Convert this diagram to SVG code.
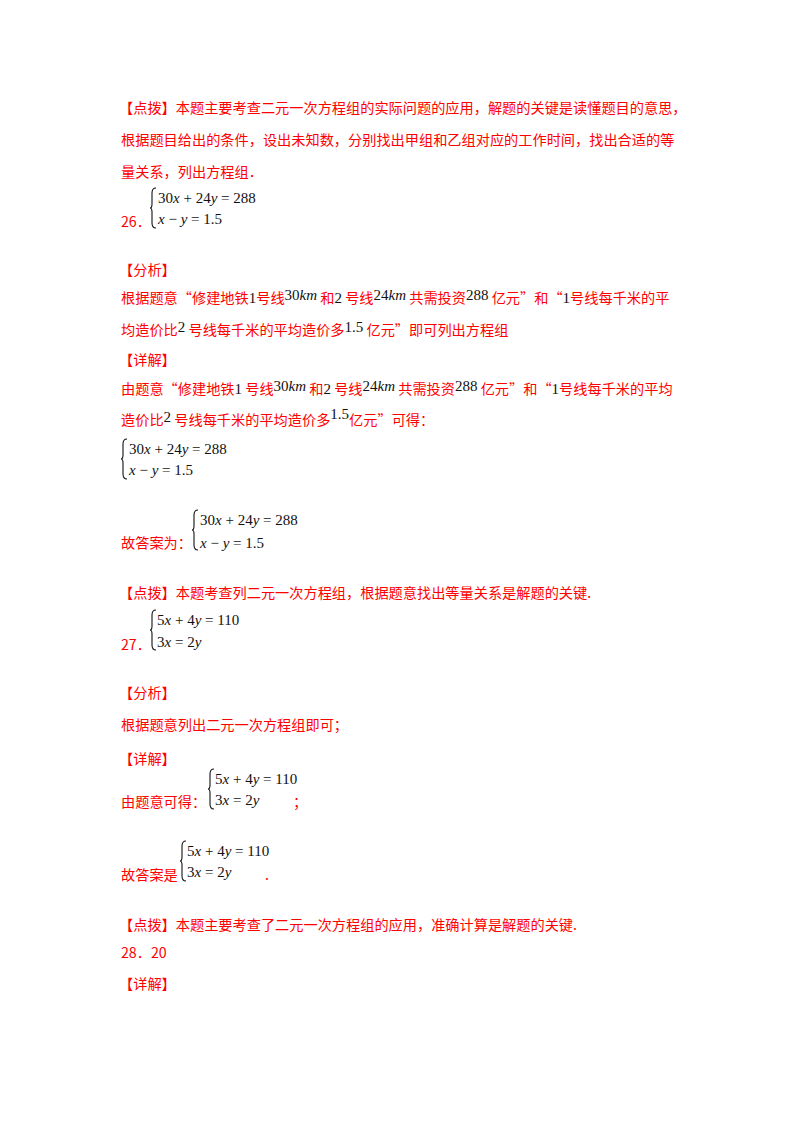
<svg xmlns="http://www.w3.org/2000/svg" width="800" height="1132" viewBox="0 0 800 1132">
<style>
.r{fill:#ff0000;font-family:"Noto Sans CJK SC","Liberation Sans",sans-serif;font-size:14.2px}
.m{fill:#111;font-family:"Liberation Serif",serif;font-size:15px}
.i{font-style:italic}
.b{fill:none;stroke:#111;stroke-width:1.1}
</style>
<defs>
<path id="br" class="b" d="M6,0 Q2,0 2,5 L2,16 Q2,20 0,20 Q2,20 2,24 L2,35 Q2,40 6,40"/>
</defs>
<rect width="800" height="1132" fill="#fff"/>
<text class="r" x="119" y="113">【点拨】本题主要考查二元一次方程组的实际问题的应用，解题的关键是读懂题目的意思，</text>
<text class="r" x="121" y="145">根据题目给出的条件，设出未知数，分别找出甲组和乙组对应的工作时间，找出合适的等</text>
<text class="r" x="121" y="177">量关系，列出方程组．</text>
<text class="r" x="121" y="227">26．</text>
<use href="#br" x="150" y="188"/>
<text class="m" x="158" y="203">30<tspan class="i">x</tspan> + 24<tspan class="i">y</tspan> = 288</text>
<text class="m" x="158" y="224"><tspan class="i">x</tspan> − <tspan class="i">y</tspan> = 1.5</text>

<text class="r" x="119" y="275">【分析】</text>
<text class="r" x="121" y="303">根据题意“修建地铁<tspan class="m">1</tspan>号线<tspan class="m" dy="-3">30<tspan class="i">km</tspan></tspan><tspan dy="3"> 和</tspan><tspan class="m">2</tspan> 号线<tspan class="m" dy="-3">24<tspan class="i">km</tspan></tspan><tspan dy="3"> 共需投资</tspan><tspan class="m" dy="-3">288</tspan><tspan dy="3"> 亿元”和“</tspan><tspan class="m">1</tspan>号线每千米的平</text>
<text class="r" x="121" y="335">均造价比<tspan class="m" dy="-3">2</tspan><tspan dy="3"> 号线每千米的平均造价多</tspan><tspan class="m" dy="-3">1.5</tspan><tspan dy="3"> 亿元”即可列出方程组</tspan></text>
<text class="r" x="119" y="365">【详解】</text>
<text class="r" x="121" y="394">由题意“修建地铁<tspan class="m">1</tspan> 号线<tspan class="m" dy="-3">30<tspan class="i">km</tspan></tspan><tspan dy="3"> 和</tspan><tspan class="m">2</tspan> 号线<tspan class="m" dy="-3">24<tspan class="i">km</tspan></tspan><tspan dy="3"> 共需投资</tspan><tspan class="m" dy="-3">288</tspan><tspan dy="3"> 亿元”和“</tspan><tspan class="m">1</tspan>号线每千米的平均</text>
<text class="r" x="121" y="425">造价比<tspan class="m" dy="-3">2</tspan><tspan dy="3"> 号线每千米的平均造价多</tspan><tspan class="m" dy="-6">1.5</tspan><tspan dy="6">亿元”可得：</tspan></text>
<use href="#br" x="121" y="439"/>
<text class="m" x="129" y="454">30<tspan class="i">x</tspan> + 24<tspan class="i">y</tspan> = 288</text>
<text class="m" x="129" y="475"><tspan class="i">x</tspan> − <tspan class="i">y</tspan> = 1.5</text>

<text class="r" x="121" y="548">故答案为：</text>
<use href="#br" x="192" y="510"/>
<text class="m" x="200" y="525">30<tspan class="i">x</tspan> + 24<tspan class="i">y</tspan> = 288</text>
<text class="m" x="200" y="548"><tspan class="i">x</tspan> − <tspan class="i">y</tspan> = 1.5</text>

<text class="r" x="119" y="598">【点拨】本题考查列二元一次方程组，根据题意找出等量关系是解题的关键.</text>
<text class="r" x="121" y="650">27．</text>
<use href="#br" x="150" y="610"/>
<text class="m" x="157" y="625">5<tspan class="i">x</tspan> + 4<tspan class="i">y</tspan> = 110</text>
<text class="m" x="157" y="647">3<tspan class="i">x</tspan> = 2<tspan class="i">y</tspan></text>

<text class="r" x="119" y="698">【分析】</text>
<text class="r" x="121" y="730">根据题意列出二元一次方程组即可；</text>
<text class="r" x="119" y="764">【详解】</text>
<text class="r" x="121" y="807">由题意可得：</text>
<use href="#br" x="208" y="769"/>
<text class="m" x="215" y="784">5<tspan class="i">x</tspan> + 4<tspan class="i">y</tspan> = 110</text>
<text class="m" x="215" y="805">3<tspan class="i">x</tspan> = 2<tspan class="i">y</tspan></text>
<text class="r" x="293" y="807">；</text>

<text class="r" x="121" y="880">故答案是</text>
<use href="#br" x="180" y="841"/>
<text class="m" x="187" y="856">5<tspan class="i">x</tspan> + 4<tspan class="i">y</tspan> = 110</text>
<text class="m" x="187" y="877">3<tspan class="i">x</tspan> = 2<tspan class="i">y</tspan></text>
<text class="r" x="265" y="880">.</text>

<text class="r" x="119" y="930">【点拨】本题主要考查了二元一次方程组的应用，准确计算是解题的关键.</text>
<text class="r" x="121" y="958">28．20</text>
<text class="r" x="119" y="989">【详解】</text>
</svg>
